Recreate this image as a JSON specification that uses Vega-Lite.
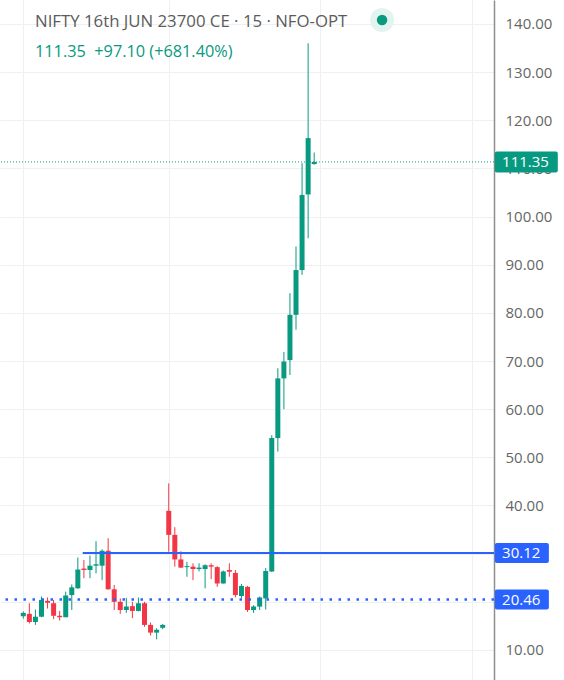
{
  "$schema": "https://vega.github.io/schema/vega-lite/v6.json",
  "width": 494,
  "height": 680,
  "autosize": {"type": "none"},
  "padding": {"left": 0, "top": 0, "right": 70, "bottom": 0},
  "background": "#ffffff",
  "config": {
    "view": {"stroke": null},
    "font": "Open Sans"
  },
  "title": {
    "text": "NIFTY 16th JUN 23700 CE · 15 · NFO-OPT",
    "subtitle": "111.35\u00a0 +97.10 (+681.40%)",
    "anchor": "start",
    "frame": "group",
    "orient": "top",
    "dx": 35,
    "offset": -60,
    "font": "Open Sans",
    "fontSize": 16.8,
    "fontWeight": "normal",
    "color": "#5b5b5b",
    "subtitleFont": "Open Sans",
    "subtitleFontSize": 16.3,
    "subtitleColor": "#089981",
    "subtitlePadding": 13
  },
  "datasets": {
    "candles": [
      {"i": 1, "o": 17.0, "h": 18.0, "l": 16.5, "c": 17.7},
      {"i": 2, "o": 17.5, "h": 19.7, "l": 15.5, "c": 15.8},
      {"i": 3, "o": 15.8, "h": 18.4, "l": 15.2, "c": 16.9},
      {"i": 4, "o": 16.9, "h": 21.1, "l": 16.8, "c": 20.4},
      {"i": 5, "o": 20.2, "h": 20.9, "l": 18.6, "c": 19.8},
      {"i": 6, "o": 19.7, "h": 20.4, "l": 16.4, "c": 17.1},
      {"i": 7, "o": 17.1, "h": 18.1, "l": 16.1, "c": 16.8},
      {"i": 8, "o": 16.8, "h": 22.1, "l": 16.8, "c": 21.3},
      {"i": 9, "o": 21.4, "h": 23.6, "l": 18.3, "c": 23.0},
      {"i": 10, "o": 22.8, "h": 29.2, "l": 22.7, "c": 26.7},
      {"i": 11, "o": 26.9, "h": 28.7, "l": 24.9, "c": 26.6},
      {"i": 12, "o": 26.6, "h": 29.6, "l": 24.9, "c": 27.5},
      {"i": 13, "o": 27.5, "h": 32.6, "l": 25.9, "c": 27.8},
      {"i": 14, "o": 27.5, "h": 30.9, "l": 24.5, "c": 30.6},
      {"i": 15, "o": 30.6, "h": 33.2, "l": 22.5, "c": 22.6},
      {"i": 16, "o": 22.6, "h": 23.5, "l": 18.3, "c": 20.0},
      {"i": 17, "o": 20.0, "h": 20.7, "l": 17.5, "c": 18.3},
      {"i": 18, "o": 18.3, "h": 20.8, "l": 17.7, "c": 19.0},
      {"i": 19, "o": 19.1, "h": 20.0, "l": 16.6, "c": 18.1},
      {"i": 20, "o": 18.1, "h": 20.9, "l": 18.0, "c": 19.7},
      {"i": 21, "o": 19.7, "h": 20.0, "l": 14.8, "c": 15.2},
      {"i": 22, "o": 15.2, "h": 15.7, "l": 13.0, "c": 13.6},
      {"i": 23, "o": 13.6, "h": 14.5, "l": 12.2, "c": 14.2},
      {"i": 24, "o": 14.6, "h": 15.4, "l": 14.3, "c": 15.2},
      {"i": 25, "o": 38.9, "h": 44.6, "l": 30.4, "c": 33.9},
      {"i": 26, "o": 33.9, "h": 35.5, "l": 27.3, "c": 28.8},
      {"i": 27, "o": 28.8, "h": 30.5, "l": 27.0, "c": 27.1},
      {"i": 28, "o": 27.2, "h": 28.3, "l": 25.2, "c": 27.4},
      {"i": 29, "o": 27.3, "h": 28.0, "l": 24.5, "c": 26.8},
      {"i": 30, "o": 26.8, "h": 28.0, "l": 26.3, "c": 27.1},
      {"i": 31, "o": 26.8, "h": 27.8, "l": 22.8, "c": 27.6},
      {"i": 32, "o": 27.6, "h": 28.0, "l": 24.7, "c": 27.3},
      {"i": 33, "o": 27.2, "h": 27.4, "l": 23.1, "c": 23.8},
      {"i": 34, "o": 23.8, "h": 26.5, "l": 23.8, "c": 26.3},
      {"i": 35, "o": 26.6, "h": 28.0, "l": 25.2, "c": 26.25},
      {"i": 36, "o": 26.0, "h": 26.6, "l": 20.9, "c": 21.4},
      {"i": 37, "o": 21.2, "h": 23.7, "l": 20.8, "c": 23.3},
      {"i": 38, "o": 23.1, "h": 23.3, "l": 17.9, "c": 18.3},
      {"i": 39, "o": 18.3, "h": 19.3, "l": 17.7, "c": 19.0},
      {"i": 40, "o": 19.0, "h": 21.1, "l": 18.3, "c": 20.9},
      {"i": 41, "o": 20.7, "h": 27.0, "l": 18.4, "c": 26.4},
      {"i": 42, "o": 26.3, "h": 54.6, "l": 26.2, "c": 54.0},
      {"i": 43, "o": 54.0, "h": 68.5, "l": 51.2, "c": 66.4},
      {"i": 44, "o": 66.4, "h": 71.9, "l": 60.0, "c": 69.9},
      {"i": 45, "o": 70.2, "h": 84.1, "l": 67.1, "c": 79.6},
      {"i": 46, "o": 79.6, "h": 93.8, "l": 76.5, "c": 88.9},
      {"i": 47, "o": 88.9, "h": 111.1, "l": 87.9, "c": 104.5},
      {"i": 48, "o": 104.6, "h": 136.0, "l": 95.5, "c": 116.3},
      {"i": 49, "o": 110.9, "h": 113.3, "l": 110.8, "c": 111.35}
    ],
    "ltp": [{"value": 111.35, "label": "111.35"}],
    "alerts": [
      {"value": 30.12, "label": "30.12"},
      {"value": 20.46, "label": "20.46"}
    ]
  },
  "layer": [
    {
      "data": {"name": "candles"},
      "mark": {"type": "rule", "strokeWidth": 1},
      "encoding": {
        "x": {
          "field": "i",
          "type": "quantitative",
          "scale": {"domain": [-2.845, 78.67], "nice": false, "zero": false, "padding": 0},
          "axis": {
            "values": [1, 25, 50, 75],
            "grid": true,
            "gridColor": "#f0f0f0",
            "gridWidth": 1,
            "labels": false,
            "ticks": false,
            "domain": false,
            "title": null
          }
        },
        "y": {
          "field": "l",
          "type": "quantitative",
          "scale": {"domain": [3.76, 144.98], "nice": false, "zero": false, "padding": 0},
          "axis": {
            "orient": "right",
            "values": [10, 20, 30, 40, 50, 60, 70, 80, 90, 100, 110, 120, 130, 140],
            "format": ".2f",
            "grid": true,
            "gridColor": "#f0f0f0",
            "gridWidth": 1,
            "ticks": false,
            "tickSize": 0,
            "domain": true,
            "domainColor": "#8e8e8e",
            "domainWidth": 1.5,
            "labelPadding": 11,
            "labelFont": "Open Sans",
            "labelFontSize": 15,
            "labelColor": "#666666",
            "labelBaseline": "middle",
            "title": null
          }
        },
        "y2": {"field": "h"},
        "color": {
          "condition": {"test": "datum.c >= datum.o", "value": "#089981"},
          "value": "#f23645"
        }
      }
    },
    {
      "data": {"name": "candles"},
      "mark": {"type": "bar", "width": 5},
      "encoding": {
        "x": {"field": "i", "type": "quantitative"},
        "y": {"field": "o", "type": "quantitative"},
        "y2": {"field": "c"},
        "color": {
          "condition": {"test": "datum.c >= datum.o", "value": "#089981"},
          "value": "#f23645"
        }
      }
    },
    {
      "data": {"name": "ltp"},
      "mark": {"type": "rule", "color": "#089981", "strokeWidth": 1, "strokeDash": [1, 2]},
      "encoding": {"y": {"field": "value", "type": "quantitative"}}
    },
    {
      "data": {"name": "alerts"},
      "transform": [{"filter": "datum.value > 25"}],
      "mark": {"type": "rule", "color": "#2962ff", "strokeWidth": 2},
      "encoding": {
        "x": {"datum": 10.8},
        "x2": {"datum": 78.67},
        "y": {"field": "value", "type": "quantitative"}
      }
    },
    {
      "data": {"name": "alerts"},
      "transform": [{"filter": "datum.value < 25"}],
      "mark": {"type": "rule", "color": "#2962ff", "strokeWidth": 2.5, "strokeDash": [2.5, 6.5]},
      "encoding": {"y": {"field": "value", "type": "quantitative"}}
    },
    {
      "data": {"name": "ltp"},
      "mark": {"type": "tick", "orient": "horizontal", "color": "#089981", "size": 63, "thickness": 21, "opacity": 1, "clip": false, "cornerRadius": 2},
      "encoding": {
        "x": {"datum": 84.0},
        "y": {"field": "value", "type": "quantitative"}
      }
    },
    {
      "data": {"name": "alerts"},
      "mark": {"type": "tick", "orient": "horizontal", "color": "#2962ff", "size": 54, "thickness": 20, "opacity": 1, "clip": false, "cornerRadius": 2},
      "encoding": {
        "x": {"datum": 83.27},
        "y": {"field": "value", "type": "quantitative"}
      }
    },
    {
      "data": {"name": "ltp"},
      "mark": {"type": "text", "align": "left", "baseline": "middle", "font": "Open Sans", "fontSize": 15, "color": "#ffffff", "clip": false},
      "encoding": {
        "x": {"datum": 80.0},
        "y": {"field": "value", "type": "quantitative"},
        "text": {"field": "label"}
      }
    },
    {
      "data": {"name": "alerts"},
      "mark": {"type": "text", "align": "left", "baseline": "middle", "font": "Open Sans", "fontSize": 15, "color": "#ffffff", "clip": false},
      "encoding": {
        "x": {"datum": 80.0},
        "y": {"field": "value", "type": "quantitative"},
        "text": {"field": "label"}
      }
    },
    {
      "data": {"values": [{"state": "live"}]},
      "mark": {"type": "point", "shape": "circle", "filled": true, "color": "#e3f3f0", "size": 576, "opacity": 1},
      "encoding": {"x": {"datum": 60.2}, "y": {"datum": 140.83}}
    },
    {
      "data": {"values": [{"state": "live"}]},
      "mark": {"type": "point", "shape": "circle", "filled": true, "color": "#089981", "size": 110, "opacity": 1},
      "encoding": {"x": {"datum": 60.2}, "y": {"datum": 140.83}}
    }
  ]
}
